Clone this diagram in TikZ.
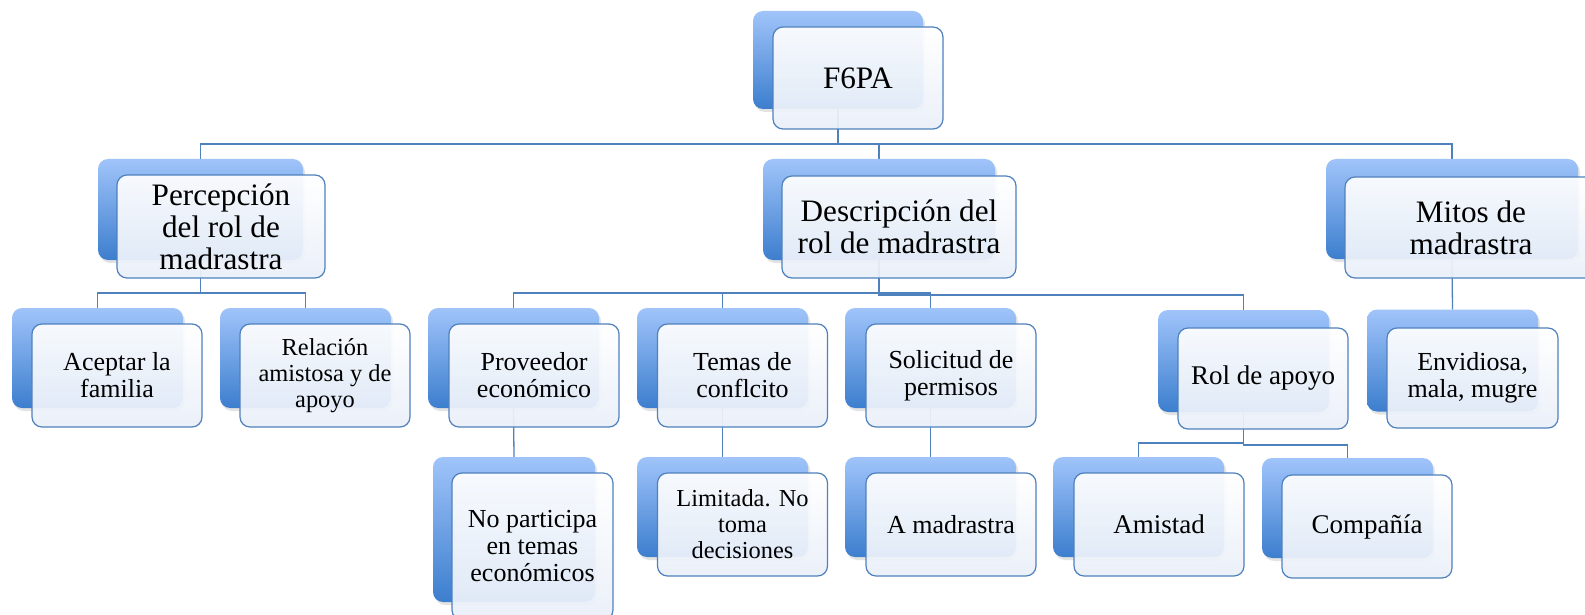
\documentclass[tikz,border=0pt]{standalone}
\usepackage{fontspec}
\setmainfont{Liberation Serif}
\usetikzlibrary{shadows,backgrounds}

\definecolor{linkblue}{RGB}{79,129,189}
\definecolor{backtop}{RGB}{160,196,250}
\definecolor{backbot}{RGB}{60,126,206}
\definecolor{frontbot}{RGB}{234,240,249}

\tikzset{
  conn/.style={draw=linkblue, line width=0.65pt},
  backbox/.style={rectangle, rounded corners=5pt, top color=backtop, bottom color=backbot,
    draw=none, inner sep=0pt, outer sep=0pt,
    drop shadow={opacity=0.22, shadow xshift=1pt, shadow yshift=-1.5pt}},
  textbox/.style={rectangle, rounded corners=5pt, draw=linkblue, line width=0.6pt,
    top color=white, bottom color=frontbot, fill opacity=0.93, text opacity=1,
    inner sep=2pt, outer sep=0pt, align=center},
  bigtext/.style={font=\fontsize{15.6pt}{16pt}\selectfont},
  smalltext/.style={font=\fontsize{13pt}{13.5pt}\selectfont},
  midtext/.style={font=\fontsize{13.5pt}{14pt}\selectfont},
  levelback/.style={backbox, minimum width=85.5pt, minimum height=50pt},
  leveltext/.style={textbox, smalltext, minimum width=85pt, minimum height=51.5pt}
}

\begin{document}
\begin{tikzpicture}[x=0.5pt, y=-0.5pt]

\useasboundingbox (0,0) rectangle (1585,615);

% top
\node[backbox, minimum width=85pt, minimum height=49pt] (f6pa) at (838,60) {};
\node[textbox, bigtext, minimum width=85pt, minimum height=51pt] (f6pa-t) at (858,78) {F6PA};

% first level
\node[backbox, minimum width=102.5pt, minimum height=50.5pt] (percep) at (200.5,209.5) {};
\node[textbox, bigtext, minimum width=104pt, minimum height=51.5pt] (percep-t) at (221,226.5) {Percepción\\del rol de\\madrastra};

\node[backbox, minimum width=116pt, minimum height=50.5pt] (desc) at (879,209.5) {};
\node[textbox, bigtext, minimum width=117pt, minimum height=51pt] (desc-t) at (899,227) {Descripción del\\rol de madrastra};

\node[backbox, minimum width=126pt, minimum height=50pt] (mitos) at (1452,209) {};
\node[textbox, bigtext, minimum width=126pt, minimum height=50.5pt] (mitos-t) at (1471,227.5) {Mitos de\\madrastra};

% second level
\node[levelback] (acep) at (97.5,358) {};
\node[leveltext] (acep-t) at (117,375.5) {Aceptar la\\familia};

\node[levelback] (relac) at (305.5,358) {};
\node[leveltext, font=\fontsize{12.2pt}{13pt}\selectfont] (relac-t) at (325,375.5) {Relación\\amistosa y de\\apoyo};

\node[levelback] (prov) at (513.5,358) {};
\node[leveltext] (prov-t) at (534,375.5) {Proveedor\\económico};

\node[levelback] (temas) at (722.5,358) {};
\node[leveltext] (temas-t) at (742.5,375.5) {Temas de\\conflcito};

\node[levelback] (solic) at (930.5,358) {};
\node[leveltext] (solic-t) at (951,375.5) {Solicitud de\\permisos};

\node[levelback, minimum height=51pt] (rol) at (1243.5,361) {};
\node[leveltext, midtext, minimum height=50.5pt] (rol-t) at (1263,378.5) {Rol de apoyo};

\node[levelback, minimum height=51pt] (envid) at (1452.5,360.5) {};
\node[leveltext, minimum width=85.5pt, minimum height=50pt] (envid-t) at (1472.5,378) {Envidiosa,\\mala, mugre};

% third level
\node[backbox, minimum width=81pt, minimum height=72.5pt] (nopart) at (514,529.5) {};
\node[leveltext, minimum width=80.5pt, minimum height=73.5pt] (nopart-t) at (532.5,546.5) {No participa\\en temas\\económicos};

\node[levelback] (limit) at (722.5,507) {};
\node[leveltext, font=\fontsize{12.2pt}{13pt}\selectfont] (limit-t) at (742.5,524.5) {Limitada. No\\toma\\decisiones};

\node[levelback] (amadr) at (930.5,507) {};
\node[leveltext] (amadr-t) at (951,524.5) {A madrastra};

\node[levelback] (amist) at (1138.5,507) {};
\node[leveltext, midtext] (amist-t) at (1159,524.5) {Amistad};

\node[levelback] (compa) at (1347.5,508) {};
\node[leveltext, midtext] (compa-t) at (1367,526.5) {Compañía};

% connectors
\begin{scope}[on background layer]
\fill[white] (0,0) rectangle (1585,615);
\draw[conn] (f6pa.south) -- ++(0,35) -| (percep.north);
\draw[conn] (f6pa.south) -- ++(0,35) -| (desc.north);
\draw[conn] (f6pa.south) -- ++(0,35) -| (mitos.north);
\draw[conn] (percep.south) -- ++(0,33) -| (acep.north);
\draw[conn] (percep.south) -- ++(0,33) -| (relac.north);
\draw[conn] (desc.south) -- ++(0,33) -| (prov.north);
\draw[conn] (desc.south) -- ++(0,33) -| (temas.north);
\draw[conn] (desc.south) -- ++(0,33) -| (solic.north);
\draw[conn] (desc.south) -- ++(0,35) -| (rol.north);
\draw[conn] (mitos.south) -- (envid.north);
\draw[conn] (prov.south) -- (nopart.north);
\draw[conn] (temas.south) -- (limit.north);
\draw[conn] (solic.south) -- (amadr.north);
\draw[conn] (rol.south) -- ++(0,31) -| (amist.north);
\draw[conn] (rol.south) -- ++(0,33) -| (compa.north);
\end{scope}

\end{tikzpicture}
\end{document}
